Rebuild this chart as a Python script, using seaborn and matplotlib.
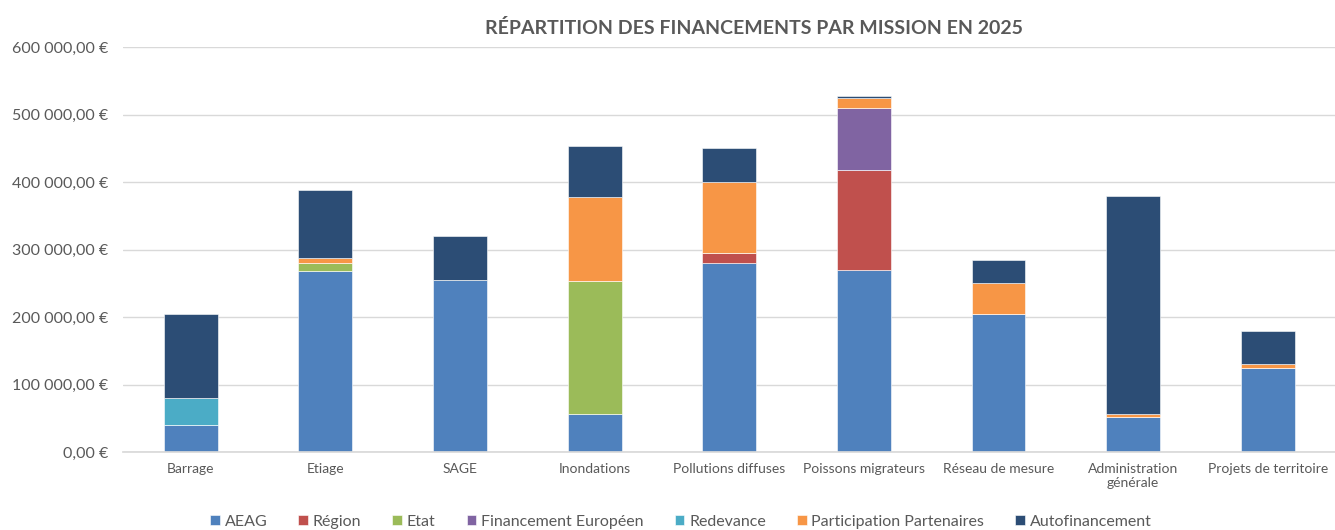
import matplotlib
matplotlib.use("Agg")
import matplotlib.pyplot as plt
import matplotlib.ticker as mticker
import numpy as np
import seaborn as sns

categories = ["Barrage", "Etiage", "SAGE", "Inondations", "Pollutions diffuses",
              "Poissons migrateurs", "Réseau de mesure", "Administration\ngénérale",
              "Projets de territoire"]
series_names = ["AEAG", "Région", "Etat", "Financement Européen", "Redevance",
                "Participation Partenaires", "Autofinancement"]
aeag = [40000, 268000, 255000, 57000, 280000, 270000, 204000, 52000, 124000]
region = [0, 0, 0, 0, 15000, 148000, 0, 0, 0]
etat = [0, 12000, 0, 197000, 0, 0, 0, 0, 0]
europeen = [0, 0, 0, 0, 0, 92000, 0, 0, 0]
redevance = [40000, 0, 0, 0, 0, 0, 0, 0, 0]
partenaires = [0, 8000, 0, 124000, 105000, 15000, 47000, 4000, 6000]
autofinancement = [124000, 101000, 65000, 76000, 50000, 2000, 33000, 323000, 49000]
colors = ["#4F81BD", "#C0504D", "#9BBB59", "#8064A2", "#4BACC6", "#F79646", "#2C4D75"]
y_ticks = [0, 100000, 200000, 300000, 400000, 500000, 600000]

sns.set_theme(style="white")
plt.rcParams["font.family"] = ["Lato", "DejaVu Sans"]

fig = plt.figure(figsize=(13.35, 5.3), dpi=100)
ax = fig.add_axes([0.0925, 0.147, 0.9075, 0.764])

series = [aeag, region, etat, europeen, redevance, partenaires, autofinancement]
bottom = np.zeros(len(categories))
for name, vals, col in zip(series_names, series, colors):
    vals = np.array(vals, dtype=float)
    sns.barplot(x=categories, y=vals, bottom=bottom, color=col, width=0.4,
                ax=ax, label=name, saturation=1, edgecolor="white", linewidth=0.4)
    bottom = bottom + vals

if ax.get_legend() is not None:
    ax.get_legend().remove()

ax.set_ylim(0, 600000)
ax.set_xlim(-0.5, len(categories) - 0.5)
ax.set_yticks(y_ticks)

def fmt(v, pos):
    s = f"{int(round(v)):,}".replace(",", " ")
    return f"{s},00 €"

ax.yaxis.set_major_formatter(mticker.FuncFormatter(fmt))
ax.yaxis.grid(True, color="#D9D9D9", linewidth=1)
ax.set_axisbelow(True)
for sp in ["top", "right", "left"]:
    ax.spines[sp].set_visible(False)
ax.spines["bottom"].set_color("#D9D9D9")
ax.tick_params(axis="y", labelsize=11.5, colors="#595959", length=0, pad=11)
ax.tick_params(axis="x", labelsize=10, colors="#595959", length=0, pad=8)
ax.set_xlabel("")
ax.set_ylabel("")

fig.text(0.565, 0.948, "RÉPARTITION DES FINANCEMENTS PAR MISSION EN 2025",
         ha="center", va="center", fontsize=14, fontweight="bold", color="#595959")

handles, labels = ax.get_legend_handles_labels()
leg = fig.legend(handles, labels, loc="center", bbox_to_anchor=(0.51, 0.016), ncol=7,
                 frameon=False, fontsize=11.5, handlelength=0.6, handleheight=0.6,
                 handletextpad=0.3, columnspacing=1.95, labelcolor="#595959")

fig.savefig("out.png", dpi=100)
